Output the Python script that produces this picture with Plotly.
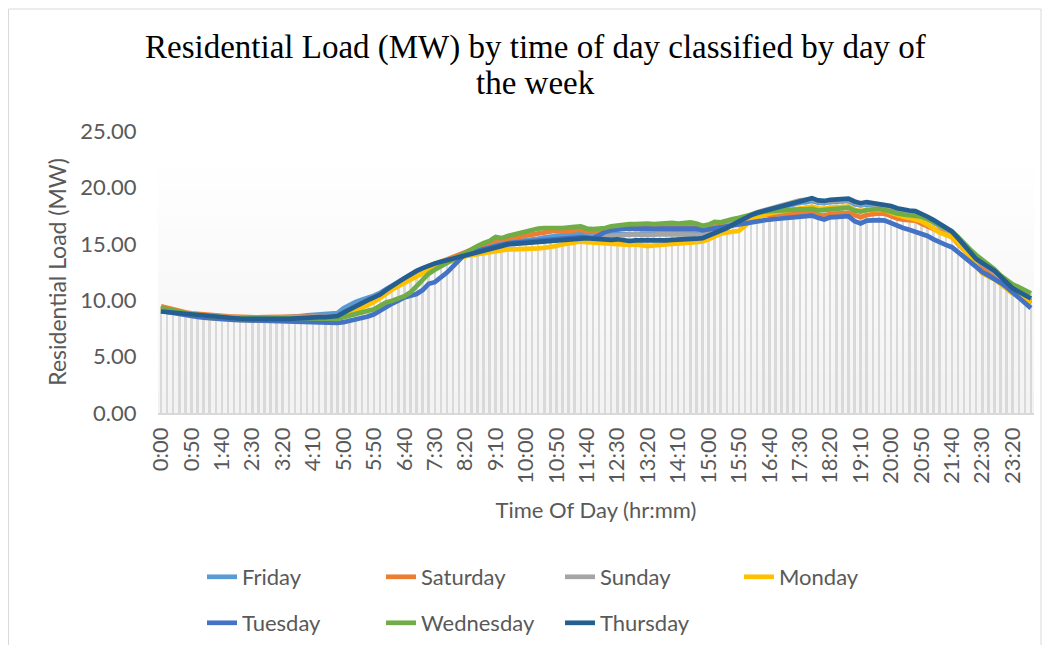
import plotly.graph_objects as go

# 10-minute time slots (categories)
times = [f"{h}:{m:02d}" for h in range(24) for m in range(0, 60, 10)]
tick_labels = ["0:00", "0:50", "1:40", "2:30", "3:20", "4:10", "5:00", "5:50", "6:40", "7:30",
               "8:20", "9:10", "10:00", "10:50", "11:40", "12:30", "13:20", "14:10", "15:00",
               "15:50", "16:40", "17:30", "18:20", "19:10", "20:00", "20:50", "21:40", "22:30", "23:20"]

friday = [9.10, 9.02, 8.92, 8.82, 8.74, 8.68, 8.62, 8.58, 8.52, 8.48, 8.46, 8.42,
          8.42, 8.40, 8.38, 8.36, 8.38, 8.40, 8.40, 8.42, 8.45, 8.50, 8.55, 8.60,
          8.65, 8.70, 8.75, 8.75, 8.80, 8.85, 9.30, 9.60, 9.85, 10.05, 10.20, 10.40,
          10.65, 11.00, 11.35, 11.65, 11.95, 12.25, 12.50, 12.70, 12.95, 13.15, 13.35, 13.55,
          13.75, 13.95, 14.10, 14.25, 14.45, 14.65, 14.85, 15.00, 15.05, 15.15, 15.20, 15.25,
          15.35, 15.40, 15.45, 15.55, 15.60, 15.75, 15.80, 15.85, 15.95, 16.00, 15.85, 15.70,
          15.65, 15.75, 15.85, 15.90, 15.85, 15.80, 15.85, 15.90, 15.90, 15.85, 15.90, 15.95,
          15.95, 15.90, 15.95, 16.00, 16.05, 16.10, 16.25, 16.40, 16.55, 16.75, 16.95, 17.15,
          17.35, 17.55, 17.70, 17.85, 17.95, 18.10, 18.25, 18.40, 18.55, 18.65, 18.70, 18.80,
          18.65, 18.60, 18.70, 18.75, 18.75, 18.80, 18.50, 18.40, 18.50, 18.45, 18.40, 18.35,
          18.10, 17.95, 17.80, 17.70, 17.65, 17.45, 17.20, 16.90, 16.60, 16.25, 15.85, 15.30,
          14.70, 14.05, 13.50, 13.10, 12.80, 12.35, 11.85, 11.30, 10.85, 10.50, 10.20, 9.90]

saturday = [9.45, 9.30, 9.15, 9.02, 8.92, 8.84, 8.78, 8.72, 8.68, 8.64, 8.60, 8.56,
            8.54, 8.50, 8.48, 8.46, 8.48, 8.50, 8.52, 8.50, 8.55, 8.60, 8.58, 8.55,
            8.55, 8.52, 8.50, 8.50, 8.55, 8.60, 8.85, 9.15, 9.45, 9.70, 9.95, 10.20,
            10.45, 10.80, 11.20, 11.50, 11.85, 12.20, 12.50, 12.75, 13.00, 13.20, 13.40, 13.60,
            13.85, 14.05, 14.25, 14.45, 14.65, 14.85, 15.05, 15.30, 15.35, 15.45, 15.60, 15.70,
            15.80, 15.90, 16.00, 16.05, 16.10, 16.15, 16.10, 16.10, 16.20, 16.25, 16.10, 16.05,
            16.05, 16.15, 16.25, 16.35, 16.45, 16.50, 16.50, 16.55, 16.55, 16.50, 16.55, 16.60,
            16.55, 16.55, 16.60, 16.65, 16.60, 16.40, 16.35, 16.50, 16.65, 16.85, 17.00, 17.15,
            17.30, 17.45, 17.50, 17.55, 17.55, 17.60, 17.65, 17.65, 17.70, 17.75, 17.75, 17.80,
            17.55, 17.50, 17.65, 17.70, 17.70, 17.75, 17.55, 17.35, 17.55, 17.65, 17.70, 17.65,
            17.40, 17.25, 17.15, 17.10, 17.05, 16.80, 16.55, 16.30, 16.05, 15.75, 15.60, 15.00,
            14.45, 13.90, 13.40, 13.00, 12.65, 12.20, 11.65, 11.10, 10.65, 10.30, 10.00, 9.70]

sunday = [9.20, 9.10, 9.00, 8.90, 8.80, 8.72, 8.66, 8.60, 8.56, 8.52, 8.48, 8.45,
          8.44, 8.42, 8.40, 8.38, 8.38, 8.40, 8.40, 8.38, 8.40, 8.42, 8.45, 8.45,
          8.48, 8.50, 8.52, 8.52, 8.56, 8.60, 8.90, 9.15, 9.45, 9.72, 9.98, 10.22,
          10.48, 10.85, 11.25, 11.55, 11.90, 12.25, 12.55, 12.80, 13.05, 13.22, 13.40, 13.55,
          13.75, 13.90, 14.05, 14.15, 14.30, 14.50, 14.65, 14.85, 14.95, 15.05, 15.10, 15.15,
          15.20, 15.25, 15.30, 15.35, 15.40, 15.45, 15.45, 15.50, 15.55, 15.60, 15.60, 15.60,
          15.65, 15.70, 15.75, 15.80, 15.80, 15.80, 15.85, 15.80, 15.75, 15.80, 15.85, 15.85,
          15.80, 15.80, 15.85, 15.85, 15.80, 15.80, 15.95, 16.15, 16.35, 16.60, 16.90, 17.15,
          17.40, 17.60, 17.80, 17.95, 18.10, 18.25, 18.40, 18.60, 18.75, 18.85, 18.90, 18.95,
          18.75, 18.70, 18.80, 18.85, 18.85, 18.90, 18.65, 18.50, 18.60, 18.50, 18.50, 18.40,
          18.20, 18.00, 17.85, 17.80, 17.75, 17.55, 17.25, 16.95, 16.65, 16.30, 15.95, 15.40,
          14.75, 14.10, 13.55, 13.20, 12.90, 12.45, 11.95, 11.40, 10.95, 10.60, 10.25, 9.95]

monday = [9.15, 9.05, 8.95, 8.82, 8.72, 8.62, 8.55, 8.48, 8.42, 8.36, 8.32, 8.28,
          8.26, 8.22, 8.20, 8.18, 8.18, 8.20, 8.22, 8.20, 8.25, 8.30, 8.32, 8.35,
          8.38, 8.40, 8.42, 8.45, 8.48, 8.55, 8.65, 8.80, 9.05, 9.30, 9.55, 9.85,
          10.20, 10.60, 10.95, 11.25, 11.55, 11.85, 12.10, 12.40, 12.70, 12.95, 13.15, 13.35,
          13.55, 13.75, 13.90, 14.00, 14.10, 14.20, 14.30, 14.40, 14.45, 14.50, 14.50, 14.50,
          14.55, 14.60, 14.60, 14.65, 14.70, 14.80, 14.95, 15.05, 15.15, 15.20, 15.15, 15.10,
          15.05, 15.00, 15.00, 14.95, 14.90, 14.90, 14.95, 14.85, 14.80, 14.85, 14.95, 14.95,
          15.00, 15.00, 15.05, 15.10, 15.15, 15.20, 15.40, 15.70, 15.90, 16.00, 16.10, 16.15,
          16.60, 17.05, 17.35, 17.55, 17.70, 17.80, 17.90, 18.00, 18.10, 18.15, 18.20, 18.30,
          18.15, 18.10, 18.20, 18.25, 18.25, 18.30, 18.00, 17.90, 18.00, 18.00, 17.95, 18.00,
          17.75, 17.55, 17.40, 17.30, 17.20, 17.00, 16.70, 16.35, 16.00, 15.80, 15.60, 15.10,
          14.45, 13.80, 13.10, 12.40, 12.10, 11.85, 11.45, 11.00, 10.60, 10.30, 10.05, 9.80]

tuesday = [9.05, 8.95, 8.85, 8.75, 8.65, 8.58, 8.52, 8.46, 8.40, 8.36, 8.32, 8.28,
           8.26, 8.24, 8.22, 8.20, 8.18, 8.15, 8.12, 8.10, 8.08, 8.06, 8.05, 8.04,
           8.00, 8.00, 8.02, 8.00, 7.98, 7.98, 8.05, 8.15, 8.30, 8.42, 8.55, 8.75,
           9.10, 9.43, 9.70, 9.95, 10.25, 10.40, 10.55, 10.90, 11.45, 11.60, 12.00, 12.45,
           13.00, 13.55, 14.10, 14.25, 14.40, 14.55, 14.70, 14.85, 14.95, 15.05, 15.10, 15.15,
           15.20, 15.25, 15.30, 15.35, 15.40, 15.45, 15.45, 15.50, 15.60, 15.60, 15.55, 15.50,
           15.75, 16.05, 16.20, 16.30, 16.35, 16.35, 16.35, 16.40, 16.40, 16.35, 16.40, 16.40,
           16.40, 16.35, 16.40, 16.40, 16.35, 16.20, 16.25, 16.35, 16.45, 16.55, 16.65, 16.75,
           16.85, 16.95, 17.05, 17.10, 17.15, 17.20, 17.25, 17.30, 17.35, 17.40, 17.45, 17.50,
           17.30, 17.15, 17.35, 17.40, 17.40, 17.45, 17.00, 16.80, 17.05, 17.10, 17.10, 17.05,
           16.80, 16.55, 16.40, 16.25, 16.10, 15.95, 15.70, 15.40, 15.10, 14.90, 14.70, 14.30,
           13.85, 13.40, 12.95, 12.50, 12.20, 11.90, 11.55, 11.15, 10.70, 10.30, 9.85, 9.30]

wednesday = [9.30, 9.18, 9.05, 8.94, 8.84, 8.76, 8.70, 8.64, 8.58, 8.52, 8.48, 8.44,
             8.42, 8.40, 8.38, 8.36, 8.36, 8.38, 8.40, 8.38, 8.40, 8.42, 8.42, 8.40,
             8.40, 8.38, 8.36, 8.35, 8.34, 8.35, 8.50, 8.65, 8.80, 8.90, 9.00, 9.20,
             9.50, 9.80, 9.95, 10.15, 10.35, 10.70, 11.30, 11.85, 12.35, 12.70, 13.00, 13.30,
             13.65, 13.95, 14.30, 14.55, 14.80, 15.05, 15.25, 15.60, 15.50, 15.70, 15.85, 15.95,
             16.05, 16.20, 16.35, 16.40, 16.45, 16.40, 16.40, 16.40, 16.50, 16.55, 16.35, 16.30,
             16.30, 16.40, 16.55, 16.65, 16.75, 16.75, 16.75, 16.80, 16.80, 16.75, 16.80, 16.85,
             16.85, 16.80, 16.85, 16.90, 16.80, 16.60, 16.70, 16.95, 16.90, 17.10, 17.20, 17.30,
             17.45, 17.60, 17.75, 17.85, 17.90, 17.95, 18.00, 18.00, 18.00, 18.05, 18.05, 18.10,
             17.95, 17.95, 18.05, 18.10, 18.15, 18.20, 17.95, 17.85, 18.00, 18.05, 18.10, 18.00,
             17.80, 17.70, 17.60, 17.55, 17.50, 17.40, 17.20, 16.95, 16.70, 16.40, 16.10, 15.60,
             15.00, 14.50, 14.00, 13.60, 13.20, 12.75, 12.20, 11.75, 11.40, 11.15, 10.90, 10.60]

thursday = [9.00, 8.95, 8.88, 8.80, 8.72, 8.66, 8.60, 8.55, 8.50, 8.46, 8.44, 8.40,
            8.40, 8.36, 8.34, 8.30, 8.30, 8.34, 8.35, 8.30, 8.34, 8.35, 8.40, 8.40,
            8.44, 8.45, 8.50, 8.50, 8.55, 8.60, 8.90, 9.20, 9.50, 9.75, 10.00, 10.25,
            10.50, 10.90, 11.30, 11.60, 11.95, 12.30, 12.60, 12.85, 13.10, 13.25, 13.40, 13.55,
            13.70, 13.85, 14.00, 14.10, 14.25, 14.40, 14.55, 14.75, 14.85, 14.95, 15.00, 15.05,
            15.10, 15.15, 15.20, 15.25, 15.30, 15.35, 15.35, 15.40, 15.50, 15.55, 15.50, 15.45,
            15.40, 15.30, 15.35, 15.40, 15.30, 15.25, 15.30, 15.30, 15.20, 15.25, 15.30, 15.30,
            15.35, 15.35, 15.40, 15.45, 15.45, 15.50, 15.70, 15.90, 16.10, 16.40, 16.70, 17.00,
            17.30, 17.55, 17.75, 17.90, 18.05, 18.20, 18.35, 18.55, 18.70, 18.85, 18.90, 19.05,
            18.85, 18.80, 18.90, 18.95, 18.95, 19.00, 18.75, 18.60, 18.70, 18.60, 18.60, 18.50,
            18.35, 18.15, 18.00, 17.95, 17.90, 17.70, 17.40, 17.10, 16.80, 16.45, 16.10, 15.50,
            14.85, 14.20, 13.65, 13.30, 13.00, 12.60, 12.10, 11.50, 11.05, 10.75, 10.45, 10.15]

series_names = ["Friday", "Saturday", "Sunday", "Monday", "Tuesday", "Wednesday", "Thursday"]
series_values = [friday, saturday, sunday, monday, tuesday, wednesday, thursday]
series_colors = ["#5B9BD5", "#ED7D31", "#A5A5A5", "#FFC000", "#4472C4", "#70AD47", "#255E91"]

FONT = "Lato"
GREY_TXT = "#595959"

# The page body adds an 8px margin, so the figure is laid out 8px up/left of page coords.
W, H = 1034, 637
PL, PR, PT, PB = 150, 1026, 123, 405   # plot-area edges in figure pixels
PW, PH = PR - PL, PB - PT


def px_x(fx):
    return (fx - PL) / PW


def px_y(fy):
    return (PB - fy) / PH


fig = go.Figure()

# Drop lines (from the highest point of each category down to the axis)
tops = [max(vals) for vals in zip(*series_values)]
fig.add_trace(go.Bar(x=times, y=tops, width=0.4, marker=dict(color="#d9d9d9", line_width=0),
                     showlegend=False, hoverinfo="skip"))

for i, (name, vals, col) in enumerate(zip(series_names, series_values, series_colors)):
    fig.add_trace(go.Scatter(x=times, y=vals, mode="lines", name=name,
                             line=dict(color=col, width=4.7),
                             legend="legend" if i < 4 else "legend2"))

# subtle plot-area gradient (Excel style)
shapes = []
n = 12
for k in range(n):
    top = 21.7 * (n - k) / n
    shapes.append(dict(type="rect", xref="paper", yref="y", x0=0, x1=1, y0=0, y1=top,
                       fillcolor="rgba(0,0,0,0.0055)", line_width=0, layer="below"))
# chart area border (top, left, right)
bcol = dict(color="#d9d9d9", width=1)
shapes.append(dict(type="line", xref="paper", yref="paper", x0=px_x(0.5), x1=px_x(1033),
                   y0=px_y(1), y1=px_y(1), line=bcol, layer="below"))
shapes.append(dict(type="line", xref="paper", yref="paper", x0=px_x(0.5), x1=px_x(0.5),
                   y0=px_y(1), y1=px_y(H), line=bcol, layer="below"))
shapes.append(dict(type="line", xref="paper", yref="paper", x0=px_x(1033), x1=px_x(1033),
                   y0=px_y(1), y1=px_y(H), line=bcol, layer="below"))

title_font = dict(family="Liberation Serif", size=33, color="black")
annotations = [
    dict(text="Residential Load (MW) by time of day classified by day of", xref="paper",
         yref="paper", x=px_x(527), y=px_y(40), xanchor="center", yanchor="middle",
         showarrow=False, font=title_font),
    dict(text="the week", xref="paper", yref="paper", x=px_x(527), y=px_y(75),
         xanchor="center", yanchor="middle", showarrow=False, font=title_font),
]

legend_common = dict(orientation="h", xref="container", yref="container", xanchor="left",
                     yanchor="middle", entrywidth=134, entrywidthmode="pixels",
                     font=dict(family=FONT, size=22, color=GREY_TXT), bgcolor="rgba(0,0,0,0)",
                     itemwidth=30, traceorder="normal")

fig.update_layout(
    width=W, height=H,
    margin=dict(l=PL, r=W - PR, t=PT, b=H - PB),
    paper_bgcolor="white", plot_bgcolor="white",
    bargap=0,
    xaxis=dict(type="category", tickmode="array", tickvals=tick_labels, ticktext=tick_labels,
               tickangle=-90, tickfont=dict(family=FONT, size=22, color=GREY_TXT),
               showgrid=False, showline=True, linecolor="#d9d9d9", linewidth=1.5,
               ticks="outside", ticklen=4, tickcolor="rgba(0,0,0,0)",
               range=[-0.5, 143.5], zeroline=False,
               title=dict(text="Time Of Day (hr:mm)", standoff=20,
                          font=dict(family=FONT, size=22, color=GREY_TXT))),
    yaxis=dict(range=[0, 25], tickmode="array", tickvals=[0, 5, 10, 15, 20, 25],
               ticktext=["0.00", "5.00", "10.00", "15.00", "20.00", "25.00"],
               tickfont=dict(family=FONT, size=22, color=GREY_TXT),
               showgrid=False, showline=False, zeroline=False,
               ticks="outside", ticklen=16, tickcolor="rgba(0,0,0,0)",
               title=dict(text="Residential Load (MW)", standoff=7,
                          font=dict(family=FONT, size=23, color=GREY_TXT))),
    legend=dict(x=194 / W, y=1 - 569 / H, **legend_common),
    legend2=dict(x=194 / W, y=1 - 615 / H, **legend_common),
    shapes=shapes,
    annotations=annotations,
    showlegend=True,
)

fig.write_html("out.html")
